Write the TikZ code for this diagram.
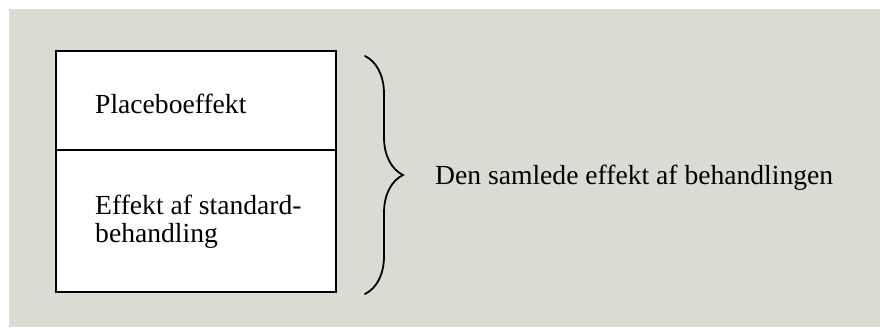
\documentclass[tikz,border=0pt]{standalone}
\usepackage{fontspec}
\setmainfont{Liberation Serif}
\usepackage{xcolor}
\usetikzlibrary{decorations.pathreplacing, positioning}

\definecolor{paper}{RGB}{219,219,211}

\begin{document}
\begin{tikzpicture}[
    x=1pt, y=-1pt,
    cell/.style={rectangle, draw, line width=2.2pt, fill=white, minimum width=280pt, inner sep=0pt},
    txt/.style={anchor=base west, inner sep=0pt, font=\fontsize{27.6}{28}\selectfont, align=left},
    curly/.style={decorate, decoration={brace, amplitude=38pt}, line width=1.8pt, line cap=round}
]
    % Background
    \useasboundingbox (0,0) rectangle (880,327);
    \fill[paper] (9,9) rectangle (880,327);

    % Cells
    \node[cell, minimum height=99pt] (placebo) at (196,100.5) {};
    \node[cell, minimum height=142pt] (standard) at (196,221) {};
    \node[txt] (placebotxt) at (95,113) {Placeboeffekt};
    \node[txt] (standardtxt) at (95,242) {Effekt af standard-\\behandling};

    % Brace
    \coordinate (btop) at (365,56);
    \coordinate (bbot) at (365,294);
    \draw[curly] (btop) -- (bbot);
    \node[txt] (total) at (435,184) {Den samlede effekt af behandlingen};
\end{tikzpicture}
\end{document}
